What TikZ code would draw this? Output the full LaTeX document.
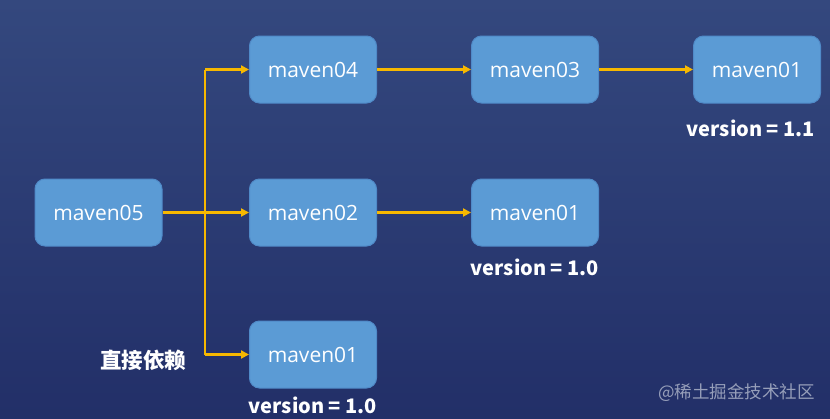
\documentclass[tikz,border=0pt]{standalone}
\usepackage{fontspec}
\setmainfont{Noto Sans CJK SC}
\newfontfamily\cjk{Noto Sans CJK SC}
\newfontfamily\boxfont{Open Sans}
\usetikzlibrary{arrows.meta}
\definecolor{bgtop}{RGB}{52,72,126}
\definecolor{bgbot}{RGB}{34,47,104}
\definecolor{boxfill}{RGB}{91,155,213}
\definecolor{boxline}{RGB}{80,138,200}
\definecolor{arr}{RGB}{247,184,0}
\definecolor{wm}{RGB}{150,158,185}
\tikzset{
  mbox/.style={draw=boxline, line width=1pt, fill=boxfill, rounded corners=10pt,
    minimum width=127pt, minimum height=67pt, text=white, font=\boxfont\fontsize{21}{23}\selectfont},
  ver/.style={text=white, font=\bfseries\fontsize{20}{22}\selectfont},
  conn/.style={draw=arr, line width=2.5pt, -{Triangle[length=8pt,width=8pt]}},
  line/.style={draw=arr, line width=2.5pt}
}
\begin{document}
\begin{tikzpicture}[x=1pt,y=-1pt]
\shade[top color=bgtop, bottom color=bgbot] (0,0) rectangle (830,418);
\useasboundingbox (0,0) rectangle (830,418);
\node[mbox] (m05) at (98.5,212.5) {maven05};
\node[mbox] (m04) at (313,69.5) {maven04};
\node[mbox] (m03) at (535,69.5) {maven03};
\node[mbox] (m01a) at (757,69.5) {maven01};
\node[mbox] (m02) at (313,212.5) {maven02};
\node[mbox] (m01b) at (535,212.5) {maven01};
\node[mbox] (m01c) at (313,354.5) {maven01};
\node[ver] (v1) at (751,128) {version = 1.1};
\node[ver] (v2) at (535,267) {version = 1.0};
\node[ver] (v3) at (313,405) {version = 1.0};
\node[text=white, font=\cjk\bfseries\fontsize{21.5}{23}\selectfont] (lbl) at (143,360) {直接依赖};
\node[text=wm, font=\cjk\fontsize{17.5}{19}\selectfont] (wmk) at (736.5,393) {@稀土掘金技术社区};
\coordinate (j) at (205,212.5);
\coordinate (jt) at (205,69.5);
\coordinate (jb) at (205,354.5);
\draw[line] (m05.east) -- (j);
\draw[line] (jt) -- (jb);
\draw[conn] (jt) -- (m04.west);
\draw[conn] (j) -- (m02.west);
\draw[conn] (jb) -- (m01c.west);
\draw[conn] (m04.east) -- (m03.west);
\draw[conn] (m03.east) -- (m01a.west);
\draw[conn] (m02.east) -- (m01b.west);
\end{tikzpicture}
\end{document}
